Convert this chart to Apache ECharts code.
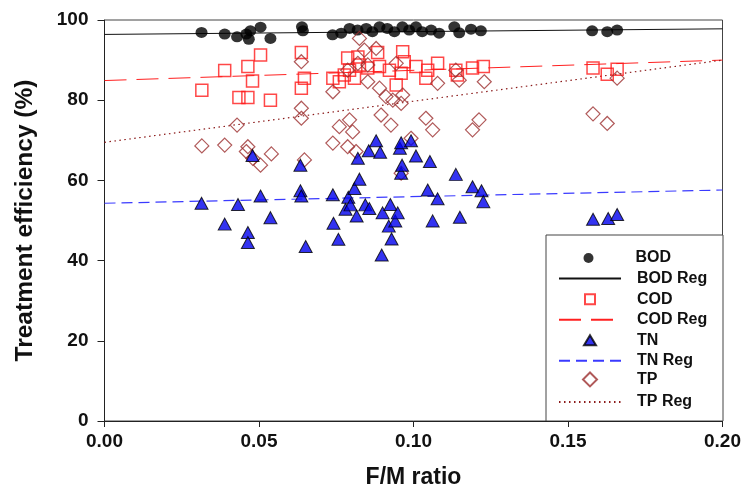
<!DOCTYPE html>
<html>
<head>
<meta charset="utf-8">
<script src="https://cdn.jsdelivr.net/npm/echarts@6/dist/echarts.min.js"></script>
<style>
  html, body { margin: 0; padding: 0; background: #fff; }
  #chart { width: 744px; height: 495px; }
</style>
</head>
<body>
<div id="chart"></div>
<script>
// F/M ratio of each sample
const bodX = [0.0314, 0.0389, 0.0429, 0.0459, 0.0467, 0.0472, 0.0505, 0.0537, 0.0639, 0.0642,
  0.0738, 0.0766, 0.0793, 0.0819, 0.0847, 0.0867, 0.0890, 0.0915, 0.0938, 0.0964,
  0.0986, 0.1008, 0.1028, 0.1057, 0.1083, 0.1132, 0.1148, 0.1186, 0.1218, 0.1578,
  0.1627, 0.1659];
const bodY = [96.9, 96.5, 95.8, 96.5, 95.2, 97.3, 98.2, 95.4, 98.3, 97.3,
  96.3, 96.7, 97.9, 97.5, 97.9, 97.1, 98.3, 97.9, 97.1, 98.3,
  97.5, 98.3, 97.1, 97.5, 96.7, 98.3, 96.8, 97.7, 97.3, 97.3,
  97.1, 97.5];

const codX = [0.0315, 0.0389, 0.0435, 0.0464, 0.0464, 0.0479, 0.0505, 0.0537, 0.0637, 0.0647,
  0.0637, 0.0739, 0.0760, 0.0776, 0.0787, 0.0793, 0.0809, 0.0820, 0.0825, 0.0852,
  0.0884, 0.0890, 0.0922, 0.0944, 0.0960, 0.0965, 0.0970, 0.1008, 0.1040, 0.1046,
  0.1078, 0.1137, 0.1142, 0.1191, 0.1226, 0.1581, 0.1627, 0.1659];
const codY = [82.5, 87.4, 80.7, 80.7, 88.4, 84.8, 91.3, 80.0, 91.9, 85.5,
  83.0, 85.5, 84.6, 86.3, 90.5, 87.5, 85.5, 90.8, 88.8, 88.0,
  91.9, 88.4, 87.5, 83.8, 86.7, 92.1, 89.6, 88.4, 85.5, 87.5,
  89.2, 87.5, 86.3, 88.0, 88.4, 88.0, 86.5, 87.7];

const tnX = [0.0314, 0.0389, 0.0432, 0.0464, 0.0464, 0.0479, 0.0505, 0.0537, 0.0634, 0.0634,
  0.0637, 0.0651, 0.0739, 0.0741, 0.0757, 0.0780, 0.0789, 0.0796, 0.0809, 0.0816,
  0.0820, 0.0825, 0.0844, 0.0855, 0.0857, 0.0879, 0.0892, 0.0897, 0.0900, 0.0920,
  0.0925, 0.0929, 0.0941, 0.0949, 0.0956, 0.0960, 0.0960, 0.0963, 0.0992, 0.1008,
  0.1046, 0.1053, 0.1062, 0.1078, 0.1137, 0.1150, 0.1191, 0.1220, 0.1226, 0.1581,
  0.1630, 0.1659];
const tnY = [54.3, 49.1, 54.0, 47.0, 44.5, 66.2, 56.1, 50.7, 63.8, 57.4,
  56.1, 43.5, 56.4, 49.3, 45.3, 52.8, 55.8, 53.9, 58.0, 51.1,
  65.5, 60.3, 53.9, 67.4, 53.0, 69.9, 67.0, 41.4, 51.9, 48.6,
  54.0, 45.4, 49.9, 51.9, 68.0, 69.4, 61.8, 63.8, 69.9, 66.1,
  57.6, 64.7, 49.9, 55.4, 61.5, 50.8, 58.4, 57.4, 54.7, 50.3,
  50.5, 51.5];

const tpX = [0.0315, 0.0389, 0.0429, 0.0459, 0.0464, 0.0480, 0.0505, 0.0540, 0.0637, 0.0637,
  0.0637, 0.0647, 0.0739, 0.0739, 0.0760, 0.0787, 0.0787, 0.0793, 0.0803, 0.0814,
  0.0820, 0.0825, 0.0841, 0.0852, 0.0852, 0.0879, 0.0890, 0.0895, 0.0911, 0.0927,
  0.0933, 0.0944, 0.0960, 0.0965, 0.0960, 0.0992, 0.1040, 0.1062, 0.1078, 0.1137,
  0.1148, 0.1229, 0.1212, 0.1191, 0.1581, 0.1627, 0.1659];
const tpY = [68.6, 68.8, 73.8, 67.2, 68.4, 65.5, 63.8, 66.6, 89.6, 78.0,
  75.5, 65.1, 82.1, 69.3, 73.4, 87.5, 68.4, 75.1, 72.1, 67.2,
  89.2, 95.4, 92.5, 88.8, 84.6, 92.9, 83.0, 76.3, 80.9, 73.8,
  80.0, 89.2, 79.2, 81.3, 61.8, 70.5, 75.5, 72.6, 84.2, 87.5,
  85.0, 84.6, 75.1, 72.6, 76.6, 74.2, 85.5];

// Linear regression lines, evaluated at both ends of the F/M range
const regX = [0, 0.2];
const bodReg = [96.4, 97.8];
const codReg = [84.9, 90.0];
const tnReg = [54.3, 57.6];
const tpReg = [69.5, 90.0];

// Axis ticks
const xTicks = [0, 0.05, 0.10, 0.15, 0.20];
const yTicks = [0, 20, 40, 60, 80, 100];

// Legend entries, top to bottom
const legendNames = ['BOD', 'BOD Reg', 'COD', 'COD Reg', 'TN', 'TN Reg', 'TP', 'TP Reg'];

const zip = (xs, ys) => xs.map((x, i) => [x, ys[i]]);

const FONT = '"Liberation Sans", Arial, sans-serif';
const INK = '#111';

const chart = echarts.init(document.getElementById('chart'), null, { renderer: 'canvas' });

const scatterBase = { type: 'scatter', animation: false, emphasis: { disabled: true } };
const lineBase = { type: 'line', symbol: 'none', animation: false, silent: true };

// Legend box geometry
const box = { left: 546, top: 235, right: 723, bottom: 421 };
const rowTop = 255, rowStep = 20.57, iconCenterX = 589, textLeft = 636;
// icon size of each entry: lines span the full sample width, markers keep their own size
const iconSize = {
  'BOD': [11, 10], 'COD': [10, 10], 'TN': [12, 10], 'TP': [14, 14],
  'BOD Reg': [62, 10], 'COD Reg': [62, 10], 'TN Reg': [62, 10], 'TP Reg': [62, 10]
};

const legends = legendNames.map((name, i) => {
  const [w, h] = iconSize[name];
  const cy = rowTop + i * rowStep;
  const left = iconCenterX - w / 2;
  const isLine = /Reg$/.test(name);
  return {
    orient: 'vertical',
    left: left, top: cy - h / 2,
    padding: 0,
    itemWidth: w, itemHeight: h,
    selectedMode: false,
    textStyle: {
      fontFamily: FONT, fontWeight: 'bold', fontSize: 16, color: INK,
      padding: [0, 0, 0, textLeft - (left + w + 5)]
    },
    data: [isLine ? { name: name, itemStyle: { opacity: 0 } } : name]
  };
});

chart.setOption({
  backgroundColor: '#fff',
  grid: {
    left: 104.5, right: 20, top: 20, bottom: 74,
    show: true, borderColor: '#444', borderWidth: 1, backgroundColor: 'transparent'
  },
  xAxis: {
    type: 'value',
    min: xTicks[0], max: xTicks[xTicks.length - 1], interval: xTicks[1] - xTicks[0],
    name: 'F/M ratio', nameLocation: 'middle', nameGap: 45,
    nameTextStyle: { fontFamily: FONT, fontWeight: 'bold', fontSize: 23, color: INK },
    axisLine: { onZero: false, lineStyle: { color: '#222', width: 1 } },
    axisTick: { inside: false, length: 6, lineStyle: { color: '#222' } },
    axisLabel: {
      margin: 11, fontFamily: FONT, fontWeight: 'bold', fontSize: 19, color: INK,
      formatter: v => v.toFixed(2)
    },
    splitLine: { show: false }
  },
  yAxis: {
    type: 'value',
    min: yTicks[0], max: yTicks[yTicks.length - 1], interval: yTicks[1] - yTicks[0],
    name: 'Treatment efficiency (%)', nameLocation: 'middle', nameGap: 67,
    nameTextStyle: { fontFamily: FONT, fontWeight: 'bold', fontSize: 24.5, color: INK },
    axisLine: { onZero: false, lineStyle: { color: '#222', width: 1 } },
    axisTick: { inside: false, length: 7, lineStyle: { color: '#222' } },
    axisLabel: { margin: 16, fontFamily: FONT, fontWeight: 'bold', fontSize: 19, color: INK },
    splitLine: { show: false }
  },
  legend: legends,
  graphic: [{
    type: 'rect', z: 0, silent: true,
    shape: { x: box.left, y: box.top, width: box.right - box.left, height: box.bottom - box.top },
    style: { fill: '#fff', stroke: '#444', lineWidth: 1 }
  }],
  series: [
    Object.assign({}, lineBase, {
      name: 'BOD Reg', data: zip(regX, bodReg), z: 2,
      lineStyle: { color: '#111', width: 1, type: 'solid' }, itemStyle: { color: '#111' }
    }),
    Object.assign({}, lineBase, {
      name: 'COD Reg', data: zip(regX, codReg), z: 2,
      lineStyle: { color: '#ff2020', width: 1, type: [22, 10] }, itemStyle: { color: '#ff2020' }
    }),
    Object.assign({}, lineBase, {
      name: 'TN Reg', data: zip(regX, tnReg), z: 2,
      lineStyle: { color: '#3a3aff', width: 1.2, type: [11, 6] }, itemStyle: { color: '#3a3aff' }
    }),
    Object.assign({}, lineBase, {
      name: 'TP Reg', data: zip(regX, tpReg), z: 2,
      lineStyle: { color: '#8b1a1a', width: 1.2, type: [1.5, 3.5] }, itemStyle: { color: '#8b1a1a' }
    }),
    Object.assign({}, scatterBase, {
      name: 'BOD', data: zip(bodX, bodY), z: 3,
      symbol: 'circle', symbolSize: [12, 11],
      itemStyle: { color: '#000', borderColor: '#000', borderWidth: 0 }
    }),
    Object.assign({}, scatterBase, {
      name: 'COD', data: zip(codX, codY), z: 3,
      symbol: 'rect', symbolSize: 12,
      itemStyle: { color: 'rgba(255,255,255,0)', borderColor: '#ff1a1a', borderWidth: 1.5 }
    }),
    Object.assign({}, scatterBase, {
      name: 'TP', data: zip(tpX, tpY), z: 3,
      symbol: 'diamond', symbolSize: 14,
      itemStyle: { color: 'rgba(255,255,255,0)', borderColor: '#9c2f2f', borderWidth: 1.2 }
    }),
    Object.assign({}, scatterBase, {
      name: 'TN', data: zip(tnX, tnY), z: 4,
      symbol: 'triangle', symbolSize: [13, 12],
      itemStyle: { color: '#0000ee', borderColor: '#000', borderWidth: 1 }
    })
  ]
});
</script>
</body>
</html>
